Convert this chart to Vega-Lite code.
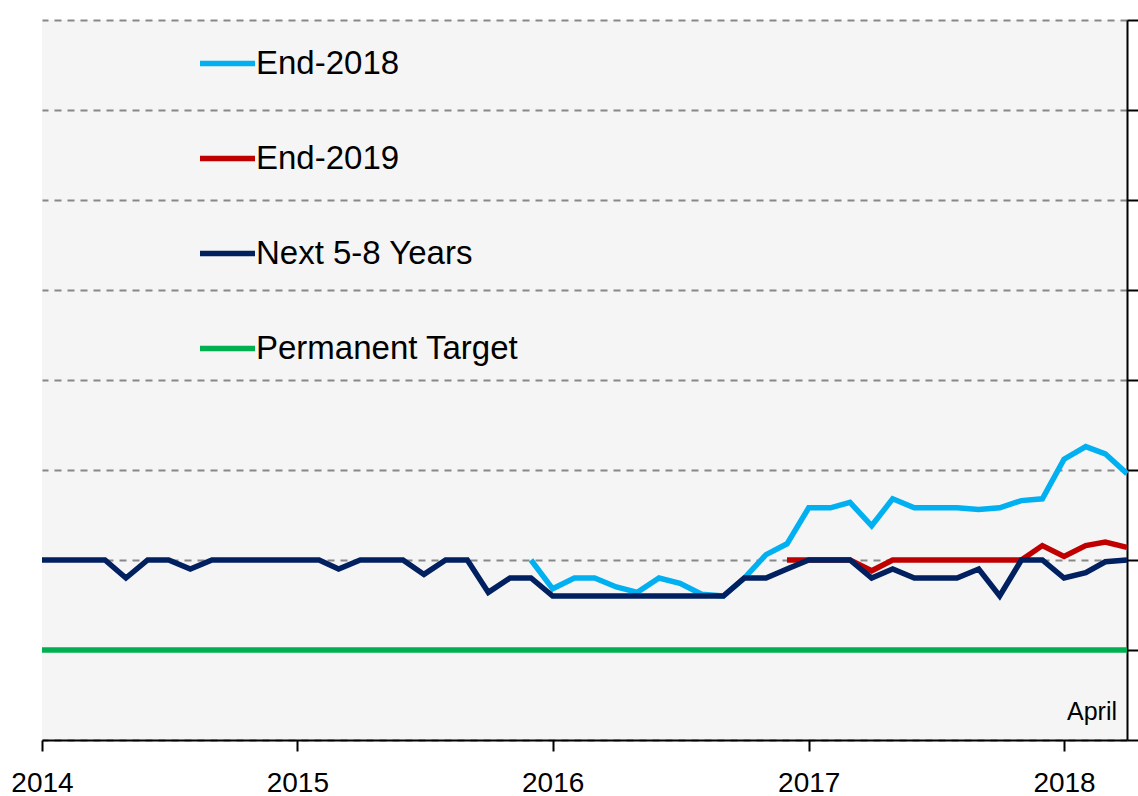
{
  "$schema": "https://vega.github.io/schema/vega-lite/v6.json",
  "width": 1085,
  "height": 720,
  "autosize": {"type": "none"},
  "padding": {"left": 42, "top": 20, "right": 11, "bottom": 56},
  "background": "white",
  "config": {"view": {"fill": "#F5F5F5", "stroke": null}, "font": "Liberation Sans"},
  "datasets": {
    "series": [
      {"date": "2014-01-01", "series": "Permanent Target", "value": 2.0},
      {"date": "2014-02-01", "series": "Permanent Target", "value": 2.0},
      {"date": "2014-03-01", "series": "Permanent Target", "value": 2.0},
      {"date": "2014-04-01", "series": "Permanent Target", "value": 2.0},
      {"date": "2014-05-01", "series": "Permanent Target", "value": 2.0},
      {"date": "2014-06-01", "series": "Permanent Target", "value": 2.0},
      {"date": "2014-07-01", "series": "Permanent Target", "value": 2.0},
      {"date": "2014-08-01", "series": "Permanent Target", "value": 2.0},
      {"date": "2014-09-01", "series": "Permanent Target", "value": 2.0},
      {"date": "2014-10-01", "series": "Permanent Target", "value": 2.0},
      {"date": "2014-11-01", "series": "Permanent Target", "value": 2.0},
      {"date": "2014-12-01", "series": "Permanent Target", "value": 2.0},
      {"date": "2015-01-01", "series": "Permanent Target", "value": 2.0},
      {"date": "2015-02-01", "series": "Permanent Target", "value": 2.0},
      {"date": "2015-03-01", "series": "Permanent Target", "value": 2.0},
      {"date": "2015-04-01", "series": "Permanent Target", "value": 2.0},
      {"date": "2015-05-01", "series": "Permanent Target", "value": 2.0},
      {"date": "2015-06-01", "series": "Permanent Target", "value": 2.0},
      {"date": "2015-07-01", "series": "Permanent Target", "value": 2.0},
      {"date": "2015-08-01", "series": "Permanent Target", "value": 2.0},
      {"date": "2015-09-01", "series": "Permanent Target", "value": 2.0},
      {"date": "2015-10-01", "series": "Permanent Target", "value": 2.0},
      {"date": "2015-11-01", "series": "Permanent Target", "value": 2.0},
      {"date": "2015-12-01", "series": "Permanent Target", "value": 2.0},
      {"date": "2016-01-01", "series": "Permanent Target", "value": 2.0},
      {"date": "2016-02-01", "series": "Permanent Target", "value": 2.0},
      {"date": "2016-03-01", "series": "Permanent Target", "value": 2.0},
      {"date": "2016-04-01", "series": "Permanent Target", "value": 2.0},
      {"date": "2016-05-01", "series": "Permanent Target", "value": 2.0},
      {"date": "2016-06-01", "series": "Permanent Target", "value": 2.0},
      {"date": "2016-07-01", "series": "Permanent Target", "value": 2.0},
      {"date": "2016-08-01", "series": "Permanent Target", "value": 2.0},
      {"date": "2016-09-01", "series": "Permanent Target", "value": 2.0},
      {"date": "2016-10-01", "series": "Permanent Target", "value": 2.0},
      {"date": "2016-11-01", "series": "Permanent Target", "value": 2.0},
      {"date": "2016-12-01", "series": "Permanent Target", "value": 2.0},
      {"date": "2017-01-01", "series": "Permanent Target", "value": 2.0},
      {"date": "2017-02-01", "series": "Permanent Target", "value": 2.0},
      {"date": "2017-03-01", "series": "Permanent Target", "value": 2.0},
      {"date": "2017-04-01", "series": "Permanent Target", "value": 2.0},
      {"date": "2017-05-01", "series": "Permanent Target", "value": 2.0},
      {"date": "2017-06-01", "series": "Permanent Target", "value": 2.0},
      {"date": "2017-07-01", "series": "Permanent Target", "value": 2.0},
      {"date": "2017-08-01", "series": "Permanent Target", "value": 2.0},
      {"date": "2017-09-01", "series": "Permanent Target", "value": 2.0},
      {"date": "2017-10-01", "series": "Permanent Target", "value": 2.0},
      {"date": "2017-11-01", "series": "Permanent Target", "value": 2.0},
      {"date": "2017-12-01", "series": "Permanent Target", "value": 2.0},
      {"date": "2018-01-01", "series": "Permanent Target", "value": 2.0},
      {"date": "2018-02-01", "series": "Permanent Target", "value": 2.0},
      {"date": "2018-03-01", "series": "Permanent Target", "value": 2.0},
      {"date": "2018-04-01", "series": "Permanent Target", "value": 2.0},

      {"date": "2015-12-01", "series": "End-2018", "value": 2.5},
      {"date": "2016-01-01", "series": "End-2018", "value": 2.34},
      {"date": "2016-02-01", "series": "End-2018", "value": 2.4},
      {"date": "2016-03-01", "series": "End-2018", "value": 2.4},
      {"date": "2016-04-01", "series": "End-2018", "value": 2.35},
      {"date": "2016-05-01", "series": "End-2018", "value": 2.32},
      {"date": "2016-06-01", "series": "End-2018", "value": 2.4},
      {"date": "2016-07-01", "series": "End-2018", "value": 2.37},
      {"date": "2016-08-01", "series": "End-2018", "value": 2.31},
      {"date": "2016-09-01", "series": "End-2018", "value": 2.3},
      {"date": "2016-10-01", "series": "End-2018", "value": 2.4},
      {"date": "2016-11-01", "series": "End-2018", "value": 2.53},
      {"date": "2016-12-01", "series": "End-2018", "value": 2.59},
      {"date": "2017-01-01", "series": "End-2018", "value": 2.79},
      {"date": "2017-02-01", "series": "End-2018", "value": 2.79},
      {"date": "2017-03-01", "series": "End-2018", "value": 2.82},
      {"date": "2017-04-01", "series": "End-2018", "value": 2.69},
      {"date": "2017-05-01", "series": "End-2018", "value": 2.84},
      {"date": "2017-06-01", "series": "End-2018", "value": 2.79},
      {"date": "2017-07-01", "series": "End-2018", "value": 2.79},
      {"date": "2017-08-01", "series": "End-2018", "value": 2.79},
      {"date": "2017-09-01", "series": "End-2018", "value": 2.78},
      {"date": "2017-10-01", "series": "End-2018", "value": 2.79},
      {"date": "2017-11-01", "series": "End-2018", "value": 2.83},
      {"date": "2017-12-01", "series": "End-2018", "value": 2.84},
      {"date": "2018-01-01", "series": "End-2018", "value": 3.06},
      {"date": "2018-02-01", "series": "End-2018", "value": 3.13},
      {"date": "2018-03-01", "series": "End-2018", "value": 3.09},
      {"date": "2018-04-01", "series": "End-2018", "value": 2.98},

      {"date": "2016-12-01", "series": "End-2019", "value": 2.5},
      {"date": "2017-01-01", "series": "End-2019", "value": 2.5},
      {"date": "2017-02-01", "series": "End-2019", "value": 2.5},
      {"date": "2017-03-01", "series": "End-2019", "value": 2.5},
      {"date": "2017-04-01", "series": "End-2019", "value": 2.44},
      {"date": "2017-05-01", "series": "End-2019", "value": 2.5},
      {"date": "2017-06-01", "series": "End-2019", "value": 2.5},
      {"date": "2017-07-01", "series": "End-2019", "value": 2.5},
      {"date": "2017-08-01", "series": "End-2019", "value": 2.5},
      {"date": "2017-09-01", "series": "End-2019", "value": 2.5},
      {"date": "2017-10-01", "series": "End-2019", "value": 2.5},
      {"date": "2017-11-01", "series": "End-2019", "value": 2.5},
      {"date": "2017-12-01", "series": "End-2019", "value": 2.58},
      {"date": "2018-01-01", "series": "End-2019", "value": 2.52},
      {"date": "2018-02-01", "series": "End-2019", "value": 2.58},
      {"date": "2018-03-01", "series": "End-2019", "value": 2.6},
      {"date": "2018-04-01", "series": "End-2019", "value": 2.57},

      {"date": "2014-01-01", "series": "Next 5-8 Years", "value": 2.5},
      {"date": "2014-02-01", "series": "Next 5-8 Years", "value": 2.5},
      {"date": "2014-03-01", "series": "Next 5-8 Years", "value": 2.5},
      {"date": "2014-04-01", "series": "Next 5-8 Years", "value": 2.5},
      {"date": "2014-05-01", "series": "Next 5-8 Years", "value": 2.4},
      {"date": "2014-06-01", "series": "Next 5-8 Years", "value": 2.5},
      {"date": "2014-07-01", "series": "Next 5-8 Years", "value": 2.5},
      {"date": "2014-08-01", "series": "Next 5-8 Years", "value": 2.45},
      {"date": "2014-09-01", "series": "Next 5-8 Years", "value": 2.5},
      {"date": "2014-10-01", "series": "Next 5-8 Years", "value": 2.5},
      {"date": "2014-11-01", "series": "Next 5-8 Years", "value": 2.5},
      {"date": "2014-12-01", "series": "Next 5-8 Years", "value": 2.5},
      {"date": "2015-01-01", "series": "Next 5-8 Years", "value": 2.5},
      {"date": "2015-02-01", "series": "Next 5-8 Years", "value": 2.5},
      {"date": "2015-03-01", "series": "Next 5-8 Years", "value": 2.45},
      {"date": "2015-04-01", "series": "Next 5-8 Years", "value": 2.5},
      {"date": "2015-05-01", "series": "Next 5-8 Years", "value": 2.5},
      {"date": "2015-06-01", "series": "Next 5-8 Years", "value": 2.5},
      {"date": "2015-07-01", "series": "Next 5-8 Years", "value": 2.42},
      {"date": "2015-08-01", "series": "Next 5-8 Years", "value": 2.5},
      {"date": "2015-09-01", "series": "Next 5-8 Years", "value": 2.5},
      {"date": "2015-10-01", "series": "Next 5-8 Years", "value": 2.32},
      {"date": "2015-11-01", "series": "Next 5-8 Years", "value": 2.4},
      {"date": "2015-12-01", "series": "Next 5-8 Years", "value": 2.4},
      {"date": "2016-01-01", "series": "Next 5-8 Years", "value": 2.3},
      {"date": "2016-02-01", "series": "Next 5-8 Years", "value": 2.3},
      {"date": "2016-03-01", "series": "Next 5-8 Years", "value": 2.3},
      {"date": "2016-04-01", "series": "Next 5-8 Years", "value": 2.3},
      {"date": "2016-05-01", "series": "Next 5-8 Years", "value": 2.3},
      {"date": "2016-06-01", "series": "Next 5-8 Years", "value": 2.3},
      {"date": "2016-07-01", "series": "Next 5-8 Years", "value": 2.3},
      {"date": "2016-08-01", "series": "Next 5-8 Years", "value": 2.3},
      {"date": "2016-09-01", "series": "Next 5-8 Years", "value": 2.3},
      {"date": "2016-10-01", "series": "Next 5-8 Years", "value": 2.4},
      {"date": "2016-11-01", "series": "Next 5-8 Years", "value": 2.4},
      {"date": "2016-12-01", "series": "Next 5-8 Years", "value": 2.45},
      {"date": "2017-01-01", "series": "Next 5-8 Years", "value": 2.5},
      {"date": "2017-02-01", "series": "Next 5-8 Years", "value": 2.5},
      {"date": "2017-03-01", "series": "Next 5-8 Years", "value": 2.5},
      {"date": "2017-04-01", "series": "Next 5-8 Years", "value": 2.4},
      {"date": "2017-05-01", "series": "Next 5-8 Years", "value": 2.45},
      {"date": "2017-06-01", "series": "Next 5-8 Years", "value": 2.4},
      {"date": "2017-07-01", "series": "Next 5-8 Years", "value": 2.4},
      {"date": "2017-08-01", "series": "Next 5-8 Years", "value": 2.4},
      {"date": "2017-09-01", "series": "Next 5-8 Years", "value": 2.45},
      {"date": "2017-10-01", "series": "Next 5-8 Years", "value": 2.3},
      {"date": "2017-11-01", "series": "Next 5-8 Years", "value": 2.5},
      {"date": "2017-12-01", "series": "Next 5-8 Years", "value": 2.5},
      {"date": "2018-01-01", "series": "Next 5-8 Years", "value": 2.4},
      {"date": "2018-02-01", "series": "Next 5-8 Years", "value": 2.43},
      {"date": "2018-03-01", "series": "Next 5-8 Years", "value": 2.49},
      {"date": "2018-04-01", "series": "Next 5-8 Years", "value": 2.5}
    ],
    "notes": [
      {"date": "2018-04-01", "value": 1.61, "label": "April"}
    ]
  },
  "layer": [
    {
      "data": {"name": "series"},
      "mark": {"type": "line", "strokeCap": "butt", "strokeJoin": "miter"},
      "encoding": {
        "x": {
          "field": "date",
          "type": "temporal",
          "scale": {
            "type": "utc",
            "domain": [
              {"year": 2014, "month": 1, "date": 1, "utc": true},
              {"year": 2018, "month": 4, "date": 1, "utc": true}
            ],
            "nice": false
          },
          "axis": {
            "orient": "bottom",
            "title": null,
            "grid": false,
            "format": "%Y",
            "tickCount": {"interval": "year", "step": 1},
            "domainColor": "black",
            "domainWidth": 2,
            "tickColor": "black",
            "tickWidth": 2,
            "tickSize": 11,
            "labelFont": "Liberation Sans",
            "labelFontSize": 28,
            "labelColor": "black",
            "labelPadding": 18,
            "labelFlush": false,
            "labelOverlap": false,
            "zindex": 1
          }
        },
        "y": {
          "field": "value",
          "type": "quantitative",
          "scale": {"domain": [1.5, 5.5], "nice": false, "zero": false},
          "axis": {
            "orient": "right",
            "title": null,
            "values": [1.5, 2, 2.5, 3, 3.5, 4, 4.5, 5, 5.5],
            "labels": false,
            "domainColor": "black",
            "domainWidth": 2,
            "tickColor": "black",
            "tickWidth": 2,
            "tickSize": 11,
            "grid": true,
            "gridColor": "#888888",
            "gridDash": [7, 6],
            "gridWidth": 2
          }
        },
        "color": {
          "field": "series",
          "type": "nominal",
          "scale": {
            "domain": ["End-2018", "End-2019", "Next 5-8 Years", "Permanent Target"],
            "range": ["#00B0F0", "#C00000", "#002060", "#00B050"]
          },
          "legend": {
            "orient": "none",
            "legendX": 155,
            "legendY": 13,
            "title": null,
            "padding": 0,
            "symbolType": "stroke",
            "symbolSize": 3025,
            "symbolStrokeWidth": 5,
            "labelFont": "Liberation Sans",
            "labelFontSize": 33,
            "labelColor": "black",
            "labelOffset": -2,
            "labelLimit": 0,
            "rowPadding": 47
          }
        },
        "strokeWidth": {
          "field": "series",
          "type": "nominal",
          "scale": {
            "domain": ["End-2018", "End-2019", "Next 5-8 Years", "Permanent Target"],
            "range": [5.5, 5.5, 5.5, 8]
          },
          "legend": null
        }
      }
    },
    {
      "data": {"name": "notes"},
      "mark": {"type": "text", "align": "right", "baseline": "alphabetic", "dx": -10, "fontSize": 25, "font": "Liberation Sans", "color": "black"},
      "encoding": {
        "x": {"field": "date", "type": "temporal"},
        "y": {"field": "value", "type": "quantitative"},
        "text": {"field": "label"}
      }
    }
  ]
}
